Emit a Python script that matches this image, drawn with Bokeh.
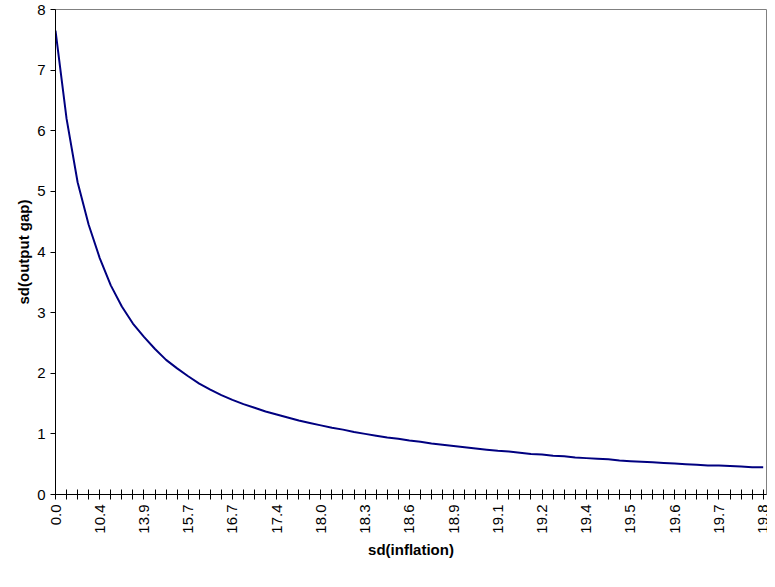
import math
from bokeh.plotting import figure
from bokeh.models import FixedTicker, Range1d
from bokeh.embed import file_html
from bokeh.resources import INLINE

# sd(inflation) labels shown on every 4th category
x_labels = ["0.0", "10.4", "13.9", "15.7", "16.7", "17.4", "18.0", "18.3", "18.6",
            "18.9", "19.1", "19.2", "19.4", "19.5", "19.6", "19.7", "19.8"]

# sd(output gap), one value per category
sd_gap = [7.65, 6.2, 5.15, 4.45, 3.9, 3.45, 3.1, 2.82, 2.6, 2.4, 2.22, 2.08, 1.95,
          1.83, 1.73, 1.64, 1.56, 1.49, 1.43, 1.37, 1.32, 1.27, 1.22, 1.18, 1.14,
          1.10, 1.07, 1.03, 1.00, 0.97, 0.94, 0.92, 0.89, 0.87, 0.84, 0.82, 0.80,
          0.78, 0.76, 0.74, 0.72, 0.71, 0.69, 0.67, 0.66, 0.64, 0.63, 0.61, 0.60,
          0.59, 0.58, 0.56, 0.55, 0.54, 0.53, 0.52, 0.51, 0.50, 0.49, 0.48, 0.48,
          0.47, 0.46, 0.45, 0.45]

idx = list(range(len(sd_gap)))

p = figure(width=767, height=577, output_backend="svg", toolbar_location=None,
           x_range=Range1d(0, len(sd_gap) - 0.7), y_range=Range1d(0, 8))
p.min_border_left = 55
p.min_border_right = 1
p.min_border_top = 9
p.min_border_bottom = 83

p.line(idx, sd_gap, line_width=2, color="#000080")

p.grid.visible = False
p.outline_line_color = "#808080"
p.background_fill_color = "white"

font = "Liberation Sans"
for ax in (p.xaxis, p.yaxis):
    ax.axis_line_color = "black"
    ax.major_tick_line_color = "black"
    ax.minor_tick_line_color = None
    ax.major_label_text_font = font
    ax.major_label_text_font_size = "15px"
    ax.major_label_text_color = "black"
    ax.axis_label_text_font = font
    ax.axis_label_text_font_size = "15px"
    ax.axis_label_text_font_style = "bold"
    ax.axis_label_text_color = "black"

p.yaxis.ticker = FixedTicker(ticks=list(range(9)))
p.yaxis.major_tick_in = 0
p.yaxis.major_tick_out = 5
p.yaxis.axis_label = "sd(output gap)"
p.yaxis.axis_label_standoff = 2

p.xaxis.ticker = FixedTicker(ticks=list(range(len(sd_gap) + 1)))
p.xaxis.major_tick_in = 5
p.xaxis.major_tick_out = 5
p.xaxis.major_label_overrides = {
    i: (x_labels[i // 4] if i % 4 == 0 else "") for i in range(len(sd_gap) + 1)
}
p.xaxis.major_label_orientation = math.pi / 2
p.xaxis.axis_label = "sd(inflation)"
p.xaxis.axis_label_standoff = 4

open("out.html", "w").write(file_html(p, INLINE))
